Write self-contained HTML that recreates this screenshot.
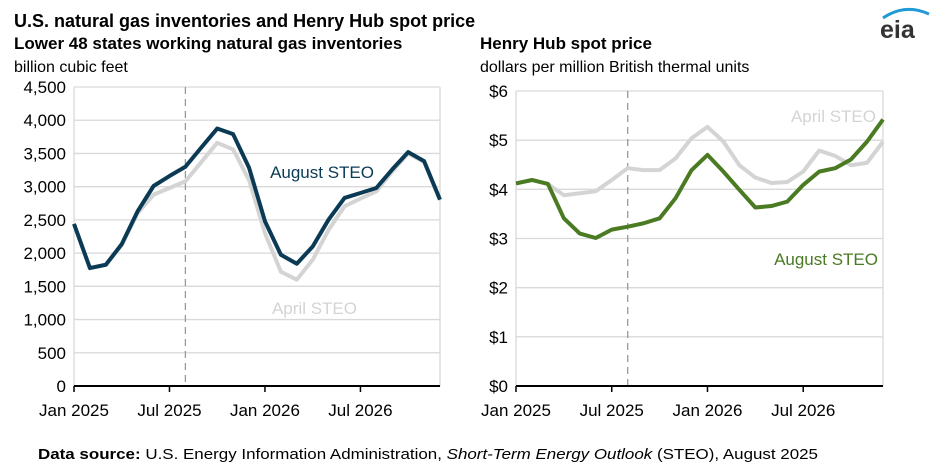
<!DOCTYPE html>
<html><head><meta charset="utf-8"><style>
html,body{margin:0;padding:0;background:#fff;}
svg{display:block;font-family:"Liberation Sans",Arial,sans-serif;}
</style></head><body>
<svg id="c" width="936" height="472" viewBox="0 0 936 472" xmlns="http://www.w3.org/2000/svg">
<text x="14" y="27" font-size="18" font-weight="bold" fill="#000">U.S. natural gas inventories and Henry Hub spot price</text>
<text x="14" y="49" font-size="17" font-weight="bold" fill="#000">Lower 48 states working natural gas inventories</text>
<text x="14" y="72" font-size="16" fill="#000">billion cubic feet</text>
<text x="480" y="49" font-size="17" font-weight="bold" fill="#000">Henry Hub spot price</text>
<text x="480" y="72" font-size="16" fill="#000">dollars per million British thermal units</text>
<g>
<path d="M883 18 Q905 3 929 14" stroke="#1f9ad6" stroke-width="3" fill="none"/>
<text x="880" y="38" font-size="25" font-weight="bold" fill="#333">eia</text>
</g>
<text x="38" y="459" font-size="15" fill="#000" textLength="780" lengthAdjust="spacingAndGlyphs"><tspan font-weight="bold">Data source:</tspan> U.S. Energy Information Administration, <tspan font-style="italic">Short-Term Energy Outlook</tspan> (STEO), August 2025</text>
<g id="L"></g><g id="R"></g>
</svg>
<script>
const months = 24;
const xTickLabels = ["Jan 2025","Jul 2025","Jan 2026","Jul 2026"];
const xTickIdx = [0,6,12,18];
const invTicks = [0,500,1000,1500,2000,2500,3000,3500,4000,4500];
const invAugust = [2440,1775,1825,2135,2630,3010,3160,3300,3590,3875,3790,3285,2480,1975,1840,2100,2505,2830,2905,2980,3260,3520,3385,2805];
const invApril = [2440,1775,1825,2120,2600,2880,2980,3080,3370,3660,3560,3100,2300,1720,1600,1900,2350,2705,2820,2930,3230,3500,3370,2800];
const priceTicks = [0,1,2,3,4,5,6];
const priceAugust = [4.12,4.19,4.11,3.41,3.10,3.01,3.18,3.24,3.31,3.41,3.82,4.39,4.70,4.36,3.99,3.63,3.66,3.75,4.09,4.36,4.43,4.61,4.97,5.42];
const priceApril = [4.12,4.19,4.11,3.88,3.92,3.96,4.19,4.43,4.39,4.39,4.63,5.04,5.27,4.97,4.49,4.24,4.13,4.15,4.36,4.79,4.68,4.49,4.54,4.97];
const forecastStart = 7;
const NS="http://www.w3.org/2000/svg";
function mk(g,tag,attrs){const e=document.createElementNS(NS,tag);for(const k in attrs)e.setAttribute(k,attrs[k]);g.appendChild(e);return e;}
function panel(g,x0,x1,y0,y1,ticks,fmt,series,colors,labels,labelPos,prefix){
  const max=ticks[ticks.length-1];
  const xs=i=>x0+(x1-x0)*i/(months-1);
  const ys=v=>y0-(y0-y1)*v/max;
  ticks.forEach(t=>{
    const l=mk(g,'line',{x1:x0,x2:x1,y1:ys(t),y2:ys(t),stroke:'#d9d9d9','stroke-width':1.3});
    
    
    const tx=mk(g,'text',{x:x0-8,y:ys(t)+6,'font-size':17,'text-anchor':'end',fill:'#000'});
    tx.textContent=fmt(t);
    
    
  });
  const rl=mk(g,'line',{x1:x1,x2:x1,y1:y1,y2:y0,stroke:'#d9d9d9','stroke-width':1.3});
  
  
  const ll=mk(g,'line',{x1:x0,x2:x0,y1:y1,y2:y0,stroke:'#d9d9d9','stroke-width':1.3});
  
  
  const fl=mk(g,'line',{x1:xs(forecastStart),x2:xs(forecastStart),y1:y1,y2:y0,stroke:'#999','stroke-width':1.3,'stroke-dasharray':'7,5'});
  
  
  const ax=mk(g,'line',{x1:x0,x2:x1,y1:y0,y2:y0,stroke:'#000','stroke-width':2});
  
  
  xTickIdx.forEach((m,k)=>{
    const tk=mk(g,'line',{x1:xs(m),x2:xs(m),y1:y0,y2:y0+6,stroke:'#000','stroke-width':1.5});
    
    
    const tx=mk(g,'text',{x:xs(m),y:y0+30,'font-size':17,'text-anchor':'middle',fill:'#000'});
    tx.textContent=xTickLabels[k];
    
    
  });
  series.forEach((s,si)=>{
    const p=mk(g,'polyline',{points:s.map((v,i)=>xs(i)+','+ys(v)).join(' '),fill:'none',stroke:colors[si],'stroke-width':4,'stroke-linejoin':'round'});
    
    
    const t=mk(g,'text',{x:labelPos[si][0],y:labelPos[si][1],'font-size':17,fill:colors[si],'text-anchor':'end'});
    t.textContent=labels[si];
    
    
  });
}
const L=document.getElementById('L'),R=document.getElementById('R');
panel(L,74,440,386,87,invTicks,t=>t.toLocaleString('en-US'),[invApril,invAugust],['#d4d4d4','#0b3a55'],['April STEO','August STEO'],[[357,314],[374,178]],'inventory');
panel(R,516,883,386,91,priceTicks,t=>'$'+t,[priceApril,priceAugust],['#d4d4d4','#4a7a22'],['April STEO','August STEO'],[[876,122],[878,265]],'price');
</script>
</body></html>
